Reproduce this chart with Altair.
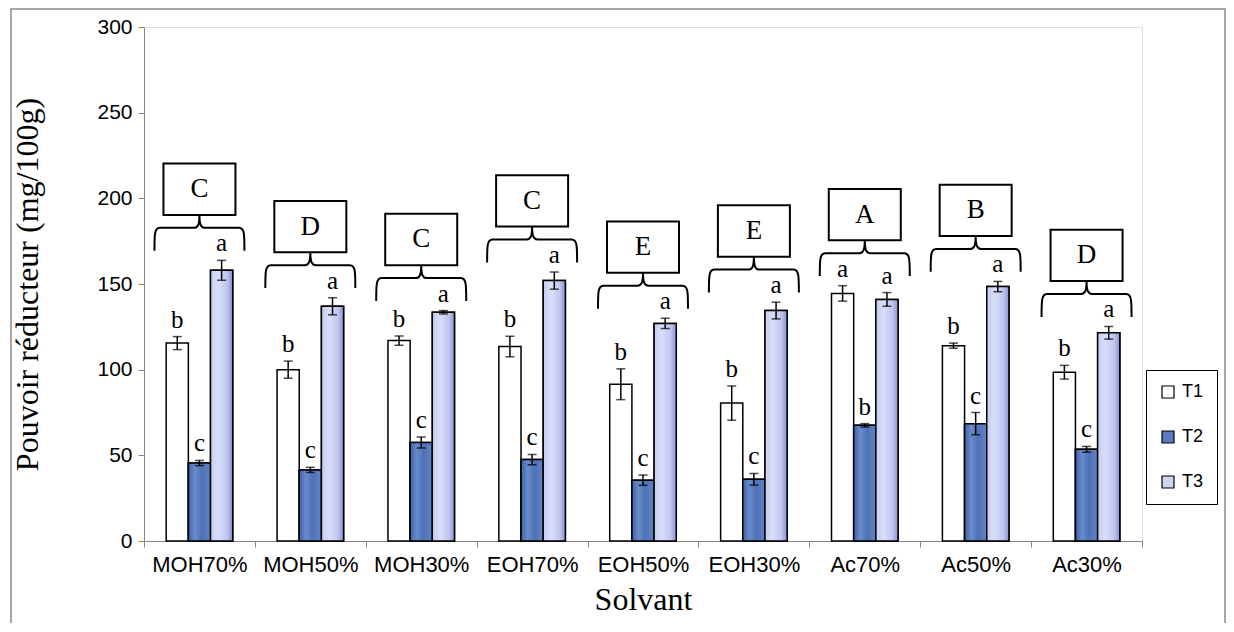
import altair as alt
import pandas as pd

cats = ["MOH70%", "MOH50%", "MOH30%", "EOH70%", "EOH50%", "EOH30%", "Ac70%", "Ac50%", "Ac30%"]
t1 = [115.5, 100, 117, 113.5, 91.5, 80.5, 144.5, 114, 98.5]
t1_err = [3.8, 5, 2.7, 6, 9, 10, 4.5, 1.5, 4]
t2 = [45.5, 41.5, 57.5, 47.5, 35.5, 36, 67.5, 68.5, 53.5]
t2_err = [1.5, 1.5, 3.2, 3, 3, 3.4, 1, 6.5, 1.7]
t3 = [158, 137, 133.5, 152, 127, 134.5, 141, 148.5, 121.5]
t3_err = [5.8, 5, 1, 5, 3, 4.9, 4, 3, 3.7]
t1_letters = ["b", "b", "b", "b", "b", "b", "a", "b", "b"]
t2_letters = ["c", "c", "c", "c", "c", "c", "b", "c", "c"]
t3_letters = ["a", "a", "a", "a", "a", "a", "a", "a", "a"]
group_letters = ["C", "D", "C", "C", "E", "E", "A", "B", "D"]
series = ["T1", "T2", "T3"]

rows = []
for s, vals, errs, lets in zip(series, [t1, t2, t3], [t1_err, t2_err, t3_err],
                               [t1_letters, t2_letters, t3_letters]):
    for c, v, e, l in zip(cats, vals, errs, lets):
        rows.append({"cat": c, "T": s, "v": v, "lo": v - e, "hi": v + e, "let": l})
df = pd.DataFrame(rows)

grp = []
for i, c in enumerate(cats):
    top = max(t1[i] + t1_err[i], t2[i] + t2_err[i], t3[i] + t3_err[i])
    lvl = top + 19
    grp.append({"cat": c, "lvl": lvl, "b0": lvl + 7.5, "b1": lvl + 37.5,
                "bm": lvl + 22.5, "G": group_letters[i]})
gdf = pd.DataFrame(grp)

xenc = alt.X("cat:N", sort=cats,
             scale=alt.Scale(paddingInner=0, paddingOuter=0),
             axis=alt.Axis(title="Solvant", labelAngle=0, tickBand="extent",
                           labelFont="Liberation Sans", labelFontSize=22,
                           labelColor="black", titleFont="Liberation Serif",
                           titleFontSize=32, titleFontWeight="normal",
                           titleColor="black", domainColor="#868686",
                           tickColor="#868686", tickSize=6, labelPadding=7,
                           titlePadding=9))
xoff = alt.XOffset("T:N", sort=series,
                   scale=alt.Scale(domain=series, paddingInner=0, paddingOuter=1))
yenc = alt.Y("v:Q", scale=alt.Scale(domain=[0, 300], nice=False),
             axis=alt.Axis(title="Pouvoir réducteur (mg/100g)", values=[0, 50, 100, 150, 200, 250, 300],
                           grid=False, labelFont="Liberation Sans", labelFontSize=21,
                           labelColor="black", titleFont="Liberation Serif",
                           titleFontSize=32, titleFontWeight="normal",
                           titleColor="black", domainColor="#868686",
                           tickColor="#868686", tickSize=6, labelPadding=6,
                           titlePadding=52))

base = alt.Chart(df)

bars = base.mark_bar(stroke="black", strokeWidth=1.5).encode(
    x=xenc, xOffset=xoff, y=yenc,
    color=alt.Color("T:N", sort=series,
                    scale=alt.Scale(domain=series, range=["#ffffff", "#5a7cbf", "#cdd4f4"]),
                    legend=alt.Legend(title=None, orient="none", legendX=1002, legendY=343,
                                      strokeColor="black", fillColor="white", padding=13,
                                      rowPadding=27, symbolType="square", symbolSize=144,
                                      symbolStrokeColor="black", symbolStrokeWidth=1.2,
                                      labelFont="Liberation Sans", labelFontSize=18,
                                      labelColor="black", labelOffset=5,
                                      labelExpr="datum.label + '      '")),
)

t3_grad = alt.LinearGradient(
    gradient="linear", x1=0, x2=1, y1=0, y2=0,
    stops=[alt.GradientStop(offset=0, color="#c4ccef"),
           alt.GradientStop(offset=0.35, color="#d9dffa"),
           alt.GradientStop(offset=0.75, color="#bfc6ee"),
           alt.GradientStop(offset=1, color="#8990d2")])
t2_grad = alt.LinearGradient(
    gradient="linear", x1=0, x2=1, y1=0, y2=0,
    stops=[alt.GradientStop(offset=0, color="#3f62a8"),
           alt.GradientStop(offset=0.3, color="#6a8ccc"),
           alt.GradientStop(offset=0.6, color="#4e72b6"),
           alt.GradientStop(offset=1, color="#6282c4")])

bars3 = base.transform_filter(alt.datum.T == "T3").mark_bar(
    fill=t3_grad, stroke="black", strokeWidth=1.5).encode(x=xenc, xOffset=xoff, y=yenc)
bars2 = base.transform_filter(alt.datum.T == "T2").mark_bar(
    fill=t2_grad, stroke="black", strokeWidth=1.5).encode(x=xenc, xOffset=xoff, y=yenc)

err = base.mark_rule(color="black", strokeWidth=1.5).encode(
    x=xenc, xOffset=xoff, y="lo:Q", y2="hi:Q")
cap_lo = base.mark_tick(color="black", size=9, thickness=1.5).encode(
    x=xenc, xOffset=xoff, y="lo:Q")
cap_hi = base.mark_tick(color="black", size=9, thickness=1.5).encode(
    x=xenc, xOffset=xoff, y="hi:Q")

letters = base.mark_text(font="Liberation Serif", fontSize=25, color="black",
                         baseline="alphabetic", dy=-9).encode(
    x=xenc, xOffset=xoff, y="hi:Q", text="let:N")

gbase = alt.Chart(gdf)
brace_path = ("M -1 0.51 C -1 0.15 -1 0 -0.88 0 L -0.12 0 C -0.03 0 0 -0.08 0 -0.29 "
              "C 0 -0.08 0.03 0 0.12 0 L 0.88 0 C 1 0 1 0.15 1 0.51")
braces = gbase.mark_point(shape=brace_path, size=8100, filled=False, color="black",
                          strokeWidth=2, opacity=1).encode(x=xenc, y="lvl:Q")
boxes = gbase.mark_bar(width=72, fill="white", stroke="black", strokeWidth=2).encode(
    x=xenc, y="b0:Q", y2="b1:Q")
box_text = gbase.mark_text(font="Liberation Serif", fontSize=27, color="black",
                           baseline="middle").encode(x=xenc, y="bm:Q", text="G:N")

frame = alt.Chart(pd.DataFrame({"a": [0]})).mark_rect(
    fill=None, stroke="#8a8a8a", strokeWidth=1.5).encode(
    x=alt.value(-133), x2=alt.value(1081), y=alt.value(-18), y2=alt.value(640))

chart = alt.layer(frame, bars, bars2, bars3, err, cap_lo, cap_hi, letters,
                  braces, boxes, box_text).properties(
    width=998, height=514,
    autosize=alt.AutoSizeParams(type="none"),
    padding={"left": 136, "top": 19, "right": 84, "bottom": 82},
).configure_view(stroke=None).configure(background="white")

chart.save("out.html", embed_options={"renderer": "svg", "actions": False})
